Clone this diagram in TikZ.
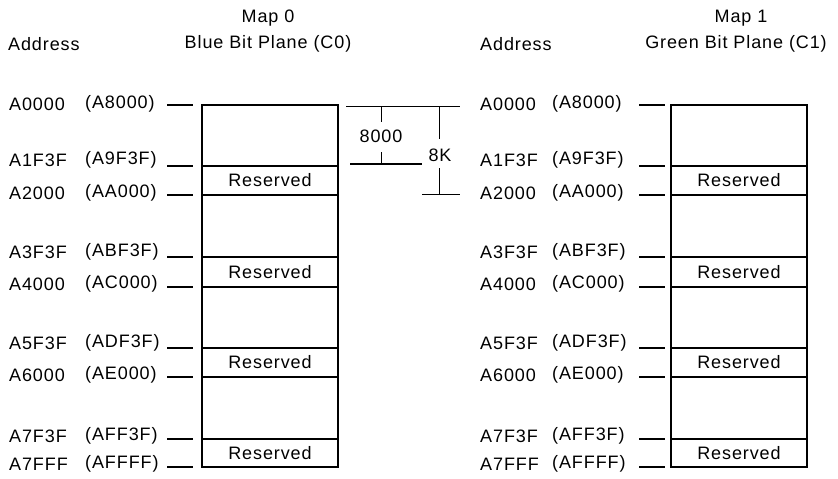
\documentclass[tikz,border=0pt]{standalone}
\usepackage{fontspec}
\setmainfont{Liberation Sans}[LetterSpace=5]
\begin{document}
\begin{tikzpicture}[x=1pt,y=-1pt,
  txt/.style={inner sep=0pt,font=\fontsize{18}{21}\selectfont},
  lbl/.style={txt,anchor=west},
  boxline/.style={line width=2.6pt},
  tick/.style={line width=1.4pt},
  dim/.style={line width=1pt},
  dimthick/.style={line width=2.2pt}]
\useasboundingbox (0,0) rectangle (838,479);
% headers
\node[lbl] (hAddrL) at (8,44) {Address};
\node[txt] (hMap0) at (268,18) {Map 0};
\node[txt] (hPlane0) at (268,44) {Blue Bit Plane (C0)};
\node[lbl] (hAddrR) at (480,44) {Address};
\node[txt] (hMap1) at (741,18) {Map 1};
\node[txt] (hPlane1) at (736,44) {Green Bit Plane (C1)};
% boxes
\foreach \bx/\nm in {202/L,671/R}{
  \draw[boxline] (\bx,105) rectangle ++(136,362);
  \foreach \yy in {166,195,257,287,348,377,439}
    \draw[boxline] (\bx,\yy) -- ++(136,0);
  \foreach \ya/\yb/\k in {166/195/1,257/287/2,348/377/3,439/467/4}
    \node[txt] (res\nm\k) at (\bx+68,{(\ya+\yb)/2}) {Reserved};
}
% address labels
\foreach \ax/\px/\dx/\nm in {9/85/167/L,480/552/639/R}{
  \foreach \yl/\yd/\a/\b/\k in {104/105/A0000/A8000/1,160/166/A1F3F/A9F3F/2,193/195/A2000/AA000/3,
      252/257/A3F3F/ABF3F/4,284/287/A4000/AC000/5,343/348/A5F3F/ADF3F/6,375/377/A6000/AE000/7,
      436/439/A7F3F/AFF3F/8,464/467/A7FFF/AFFFF/9}{
    \node[lbl] (a\nm\k) at (\ax,\yl) {\a};
    \node[lbl] (p\nm\k) at (\px,\yl) {(\b)};
    \coordinate (d\nm\k) at (\dx+26,\yd);
    \draw[tick] (\dx,\yd) -- (d\nm\k);
  }
}
% dimension marks
\coordinate (t1) at (346,106);
\coordinate (t2) at (460,106);
\draw[dim] (t1) -- (t2);
\node[txt] (n8000) at (381,136) {8000};
\draw[dim] (381,106) -- (381,122);
\draw[dim] (381,152) -- (381,164);
\coordinate (m1) at (350,164);
\coordinate (m2) at (422,164);
\draw[dimthick] (m1) -- (m2);
\node[txt] (n8K) at (440,155) {8K};
\draw[dim] (439,106) -- (439,139);
\draw[dim] (439,168) -- (439,194);
\coordinate (b1) at (422,194);
\coordinate (b2) at (460,194);
\draw[dim] (b1) -- (b2);
\end{tikzpicture}
\end{document}
